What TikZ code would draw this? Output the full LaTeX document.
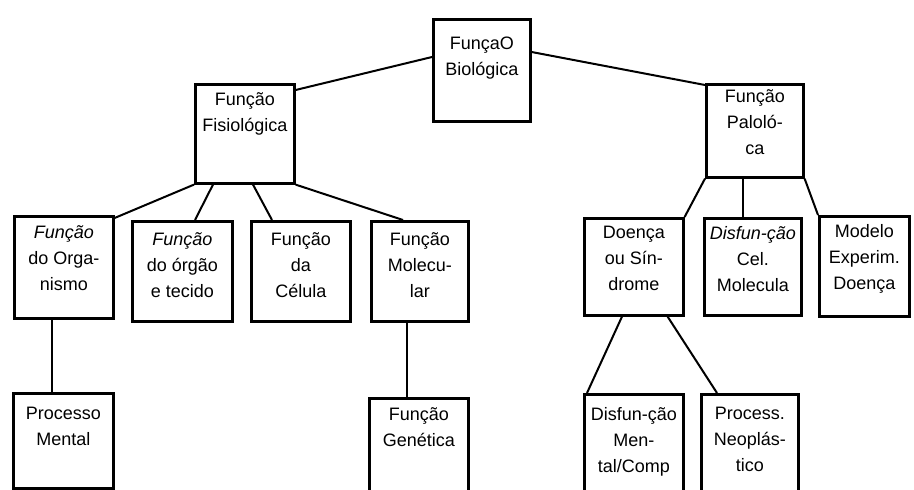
\documentclass[tikz,border=0pt]{standalone}
\usepackage{fontspec}
\setmainfont{Liberation Sans}
\usepackage{tikz}

\tikzset{
  box/.style={draw, line width=2.6pt, anchor=north west, inner sep=0pt},
  txt/.style={anchor=north, align=center, inner sep=0pt, font=\fontsize{18}{26}\selectfont},
  edge/.style={line width=2pt}
}

\begin{document}
\begin{tikzpicture}[x=1pt, y=-1pt]
  \clip (0,0) rectangle (914,490);

  \node[box, minimum width=97pt, minimum height=102pt] (bio) at (432,18) {};
  \node[box, minimum width=99pt, minimum height=99pt] (fis) at (194,83) {};
  \node[box, minimum width=97pt, minimum height=93pt] (pat) at (705,83) {};

  \node[box, minimum width=99pt, minimum height=102pt] (org) at (13,215) {};
  \node[box, minimum width=100pt, minimum height=100pt] (orgao) at (131,220) {};
  \node[box, minimum width=99pt, minimum height=100pt] (cel) at (250,220) {};
  \node[box, minimum width=97pt, minimum height=100pt] (mol) at (370,220) {};
  \node[box, minimum width=99pt, minimum height=97pt] (doe) at (583,217) {};
  \node[box, minimum width=97pt, minimum height=97pt] (dcm) at (703,217) {};
  \node[box, minimum width=90pt, minimum height=100pt] (mod) at (818,215) {};

  \node[box, minimum width=100pt, minimum height=95pt] (men) at (12,392) {};
  \node[box, minimum width=99pt, minimum height=100pt] (gen) at (368,397) {};
  \node[box, minimum width=99pt, minimum height=100pt] (dmc) at (583,393) {};
  \node[box, minimum width=97pt, minimum height=100pt] (neo) at (700,393) {};

  \node[txt] (bio-t) at ([yshift=-19pt]bio.north) {FunçaO\\Biológica};
  \node[txt] (fis-t) at ([yshift=-9pt]fis.north) {Função\\Fisiológica};
  \node[txt] (pat-t) at ([yshift=-6pt]pat.north) {Função\\Paloló-\\ca};
  \node[txt] (org-t) at ([yshift=-10pt]org.north) {\textit{Função}\\do Orga-\\nismo};
  \node[txt] (orgao-t) at ([yshift=-12pt]orgao.north) {\textit{Função}\\do órgão\\e tecido};
  \node[txt] (cel-t) at ([yshift=-12pt]cel.north) {Função\\da\\Célula};
  \node[txt] (mol-t) at ([yshift=-12pt]mol.north) {Função\\Molecu-\\lar};
  \node[txt] (doe-t) at ([yshift=-9pt]doe.north) {Doença\\ou Sín-\\drome};
  \node[txt] (dcm-t) at ([yshift=-9pt]dcm.north) {\textit{Disfun-ção}\\Cel.\\Molecula};
  \node[txt] (mod-t) at ([yshift=-9pt]mod.north) {Modelo\\Experim.\\Doença};
  \node[txt] (men-t) at ([yshift=-15pt]men.north) {Processo\\Mental};
  \node[txt] (gen-t) at ([yshift=-10pt]gen.north) {Função\\Genética};
  \node[txt] (dmc-t) at ([yshift=-14pt]dmc.north) {Disfun-ção\\Men-\\tal/Comp};
  \node[txt] (neo-t) at ([yshift=-14pt]neo.north) {Process.\\Neoplás-\\tico};

  \draw[edge] ([yshift=-39pt]bio.north west) -- ([yshift=-7pt]fis.north east);
  \draw[edge] ([yshift=-34pt]bio.north east) -- ([yshift=-2pt]pat.north west);

  \draw[edge] (fis.south west) -- ([yshift=-3pt]org.north east);
  \draw[edge] ([xshift=19pt]fis.south west) -- ([xshift=64pt]orgao.north west);
  \draw[edge] ([xshift=59pt]fis.south west) -- ([xshift=22pt]cel.north west);
  \draw[edge] (fis.south east) -- ([xshift=33pt]mol.north west);

  \draw[edge] (pat.south west) -- (doe.north east);
  \draw[edge] ([xshift=38pt]pat.south west) -- ([xshift=40pt]dcm.north west);
  \draw[edge] (pat.south east) -- (mod.north west);

  \draw[edge] ([xshift=39pt]org.south west) -- ([xshift=40pt]men.north west);
  \draw[edge] ([xshift=37pt]mol.south west) -- ([xshift=39pt]gen.north west);
  \draw[edge] ([xshift=39pt]doe.south west) -- ([xshift=4pt]dmc.north west);
  \draw[edge] ([xshift=-17pt]doe.south east) -- ([xshift=17pt]neo.north west);
\end{tikzpicture}
\end{document}
